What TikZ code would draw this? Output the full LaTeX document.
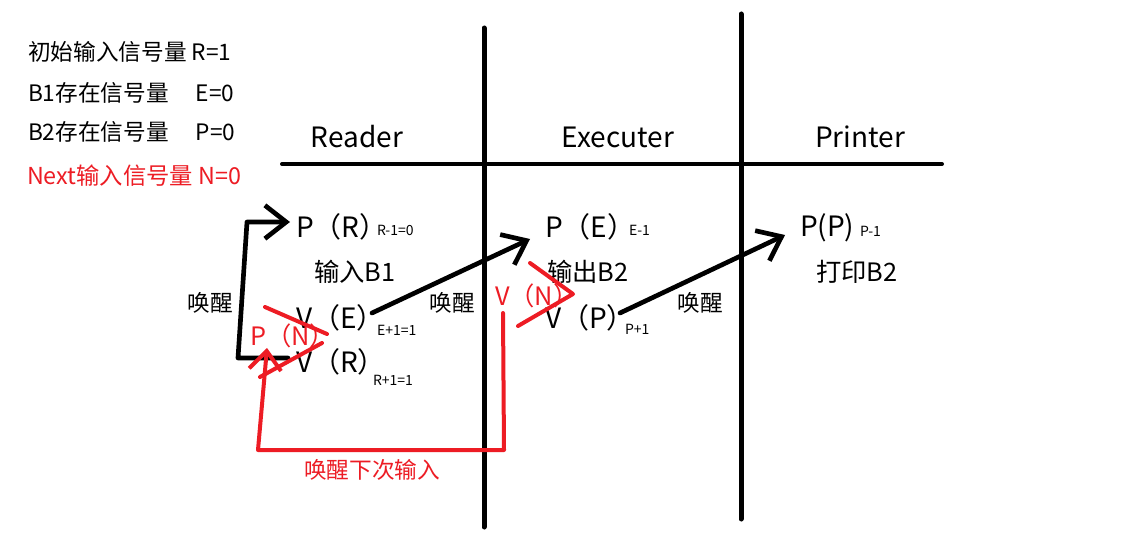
\documentclass[tikz,border=0pt]{standalone}
\usepackage{fontspec}
\setmainfont{Noto Sans CJK SC}
\usetikzlibrary{arrows.meta}
\definecolor{pred}{RGB}{237,28,36}
\newcommand{\rp}{\makebox[0.45em][l]{）}}
\begin{document}
\begin{tikzpicture}[x=0.75pt,y=-0.75pt,
  every node/.style={inner sep=0pt, outer sep=0pt},
  txt/.style={font=\fontsize{17}{20}\selectfont, anchor=west},
  head/.style={font=\fontsize{21}{24}\selectfont},
  op/.style={font=\fontsize{21}{24}\selectfont, anchor=west},
  sub/.style={font=\fontsize{10.5}{12}\selectfont, anchor=west},
  act/.style={font=\fontsize{19}{22}\selectfont},
  wake/.style={font=\fontsize{17}{20}\selectfont},
  divider/.style={line width=3.75pt, line cap=round},
  blk/.style={line width=3.5pt, line cap=round, line join=round, -{Straight Barb[length=16pt,width=25pt]}},
  redl/.style={pred, line width=3pt, line cap=round, line join=round},
  redarrow/.style={redl, -{Straight Barb[length=14pt,width=24pt]}}]
\useasboundingbox[fill=white] (0,0) rectangle (1130,556);
% dividers
\draw[divider] (484,28) -- (484,527);
\draw[divider] (741,14) -- (741,519);
\draw[line width=3pt, line cap=round] (282,164) -- (942,164);
% legend
\node[txt] (t1) at (28,52) {初始输入信号量 R=1};
\node[txt] (t2) at (28,93) {B1存在信号量\hspace{1.2em}E=0};
\node[txt] (t3) at (28,132) {B2存在信号量\hspace{1.2em}P=0};
\node[txt, text=pred, font=\fontsize{17.5}{20}\selectfont] (t4) at (27,176) {Next输入信号量 N=0};
% headers
\node[head] (hr) at (357,137) {Reader};
\node[head] (he) at (618,137) {Executer};
\node[head] (hp) at (860,137) {Printer};
% reader
\node[op] (pr) at (296,227) {P（R\rp};
\node[sub] (prs) at (377,230) {R-1=0};
\node[act] (in1) at (355,272) {输入B1};
\node[wake] (w1) at (210,303) {唤醒};
\node[op] (ve) at (296,318) {V（E\rp};
\node[sub] (ves) at (377,330) {E+1=1};
\node[op] (vr) at (296,362) {V（R\rp};
\node[sub] (vrs) at (373,380) {R+1=1};
\node[op, text=pred, font=\fontsize{19}{22}\selectfont] (pn) at (250,336) {P（N\rp};
% executer
\node[op] (pe) at (545,227) {P（E\rp};
\node[sub] (pes) at (629,230) {E-1};
\node[act] (out2) at (588,272) {输出B2};
\node[wake] (w2) at (452,303) {唤醒};
\node[op, text=pred, font=\fontsize{19}{22}\selectfont] (vn) at (495,296) {V（N\rp};
\node[op] (vp) at (545,318) {V（P\rp};
\node[sub] (vps) at (625,329) {P+1};
% printer
\node[op] (pp) at (800,228) {P(P)};
\node[sub] (pps) at (860,231) {P-1};
\node[act] (pr2) at (857,272) {打印B2};
\node[wake] (w3) at (700,303) {唤醒};
\node[wake, text=pred] (rl) at (372,470) {唤醒下次输入};
% coordinates
\coordinate (a0) at (288,358);
\coordinate (a1) at (238,358);
\coordinate (a2) at (247,222);
\coordinate (a3) at (290,222);
\coordinate (b0) at (372,313);
\coordinate (b1) at (530,239);
\coordinate (c0) at (620,313);
\coordinate (c1) at (785,235);
\coordinate (r0) at (503,313);
\coordinate (r1) at (504,450);
\coordinate (r2) at (258,450);
\coordinate (r3) at (267,348);
% black connectors
\draw[blk] (a0) -- (a1) -- (a2) -- (a3);
\draw[blk] (b0) -- (b1);
\draw[blk] (c0) -- (c1);
% red marks
\draw[redl] (265,307) -- (327,334);
\draw[redl] (322,343) -- (260,377);
\draw[redl] (530,263) -- (573,294) -- (518,326);
\draw[redarrow] (r0) -- (r1) -- (r2) -- (r3);
\end{tikzpicture}
\end{document}
